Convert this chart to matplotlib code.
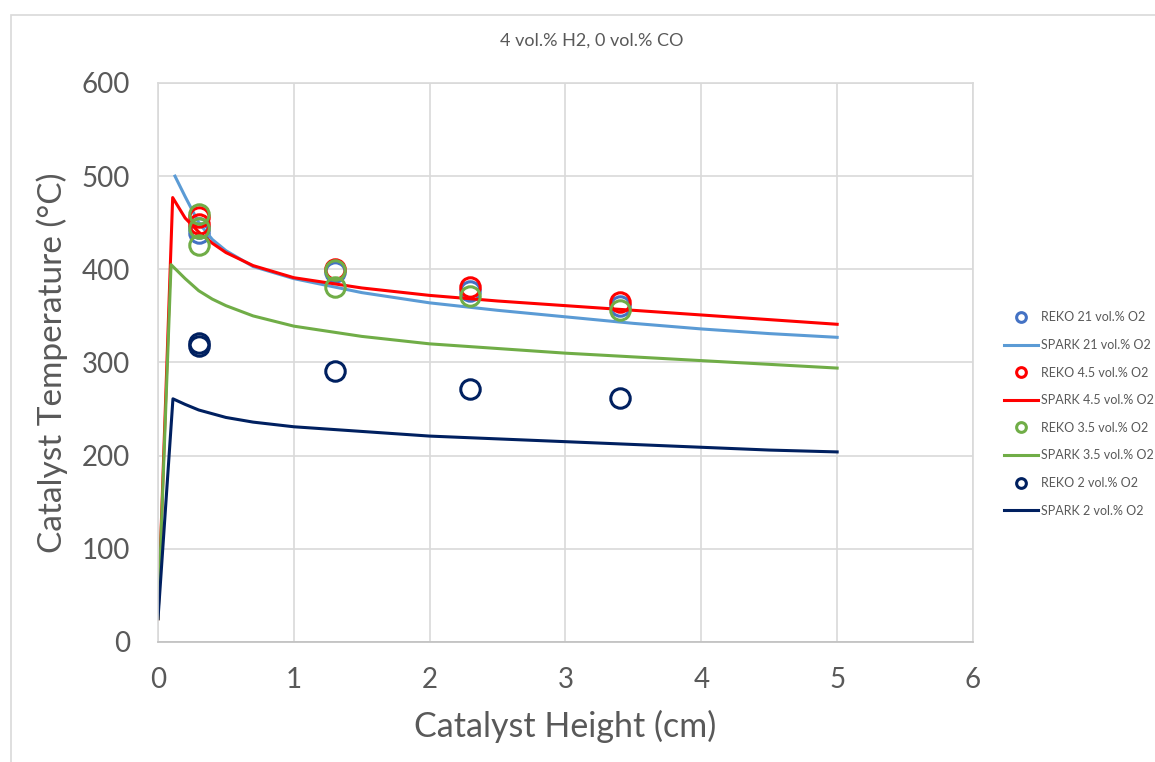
import numpy as np
import matplotlib.pyplot as plt
from matplotlib.patches import Rectangle

plt.rcParams['font.family'] = ['Lato', 'DejaVu Sans']

# SPARK simulation curves
x_spark21 = [0.125, 0.2, 0.3, 0.4, 0.5, 0.7, 1.0, 1.5, 2.0, 2.5, 3.0, 3.5, 4.0, 4.5, 5.0]
y_spark21 = [500, 478, 450, 432, 420, 403, 390, 375, 364, 356, 349, 342, 336, 331, 327]

x_spark45 = [0, 0.108, 0.2, 0.3, 0.4, 0.5, 0.7, 1.0, 1.5, 2.0, 2.5, 3.0, 3.5, 4.0, 4.5, 5.0]
y_spark45 = [25, 477, 455, 440, 428, 418, 404, 391, 380, 372, 366, 361, 356, 351, 346, 341]

x_spark35 = [0, 0.096, 0.2, 0.3, 0.4, 0.5, 0.7, 1.0, 1.5, 2.0, 2.5, 3.0, 3.5, 4.0, 4.5, 5.0]
y_spark35 = [25, 405, 390, 377, 368, 361, 350, 339, 328, 320, 315, 310, 306, 302, 298, 294]

x_spark2 = [0, 0.11, 0.2, 0.3, 0.5, 0.7, 1.0, 1.5, 2.0, 2.5, 3.0, 3.5, 4.0, 4.5, 5.0]
y_spark2 = [25, 261, 255, 249, 241, 236, 231, 226, 221, 218, 215, 212, 209, 206, 204]

# REKO measurements
x_reko21 = [0.3, 0.3, 1.3, 2.3, 3.4]
y_reko21 = [444, 439, 397, 377, 361]

x_reko45 = [0.3, 0.3, 1.3, 2.3, 3.4]
y_reko45 = [456, 449, 400, 381, 365]

x_reko35 = [0.3, 0.3, 0.3, 1.3, 1.3, 2.3, 3.4]
y_reko35 = [459, 444, 426, 399, 381, 371, 356]

x_reko2 = [0.3, 0.3, 1.3, 2.3, 3.4]
y_reko2 = [318, 321, 291, 272, 262]

fig = plt.figure(figsize=(11.55, 7.62), dpi=100)
ax = fig.add_axes([0.1368, 0.1575, 0.7056, 0.7336])

# chart area border
fig.patches.append(Rectangle((11/1155, -0.1), 1.2, 1 - 15/762 + 0.1, transform=fig.transFigure,
                             fill=False, edgecolor='#d9d9d9', linewidth=1.2))

mk = dict(linestyle='none', marker='o', markersize=14, markerfacecolor='none', markeredgewidth=2.2)
lw = 2.2

ax.plot(x_reko21, y_reko21, color='#4472C4', label='REKO 21 vol.% O2', **mk)
ax.plot(x_spark21, y_spark21, color='#5B9BD5', lw=lw, label='SPARK 21 vol.% O2')
ax.plot(x_reko45, y_reko45, color='#FF0000', label='REKO 4.5 vol.% O2', **mk)
ax.plot(x_spark45, y_spark45, color='#FF0000', lw=lw, label='SPARK 4.5 vol.% O2')
ax.plot(x_reko35, y_reko35, color='#70AD47', label='REKO 3.5 vol.% O2', **mk)
ax.plot(x_spark35, y_spark35, color='#70AD47', lw=lw, label='SPARK 3.5 vol.% O2')
ax.plot(x_reko2, y_reko2, color='#002060', label='REKO 2 vol.% O2', **mk)
ax.plot(x_spark2, y_spark2, color='#002060', lw=lw, label='SPARK 2 vol.% O2')

ax.set_xlim(0, 6)
ax.set_ylim(0, 600)
ax.set_xticks(range(0, 7))
ax.set_yticks(range(0, 700, 100))
ax.grid(True, color='#d9d9d9', linewidth=1.2)
ax.set_axisbelow(True)
for s in ax.spines.values():
    s.set_color('#d9d9d9')
    s.set_linewidth(1.2)
ax.spines['bottom'].set_color('#bfbfbf')
ax.tick_params(length=0, labelsize=20, labelcolor='#595959')
ax.tick_params(axis='y', pad=20)
ax.tick_params(axis='x', pad=18)

ax.set_xlabel('Catalyst Height (cm)', fontsize=24.5, color='#595959', labelpad=12)
ax.set_ylabel('Catalyst Temperature (°C)', fontsize=24, color='#595959', labelpad=10)

fig.text(592/1155, 1 - 41/762, '4 vol.% H2, 0 vol.% CO', ha='center', va='center',
         fontsize=13, color='#595959')

leg = ax.legend(loc='center left', bbox_to_anchor=(1004/1155, 1 - 414/762),
                bbox_transform=fig.transFigure, frameon=False, fontsize=9,
                markerscale=0.5, handlelength=2.7, handletextpad=0.25, labelspacing=1.25,
                borderpad=0, borderaxespad=0)
for t in leg.get_texts():
    t.set_color('#595959')

fig.savefig('out.png', dpi=100)
